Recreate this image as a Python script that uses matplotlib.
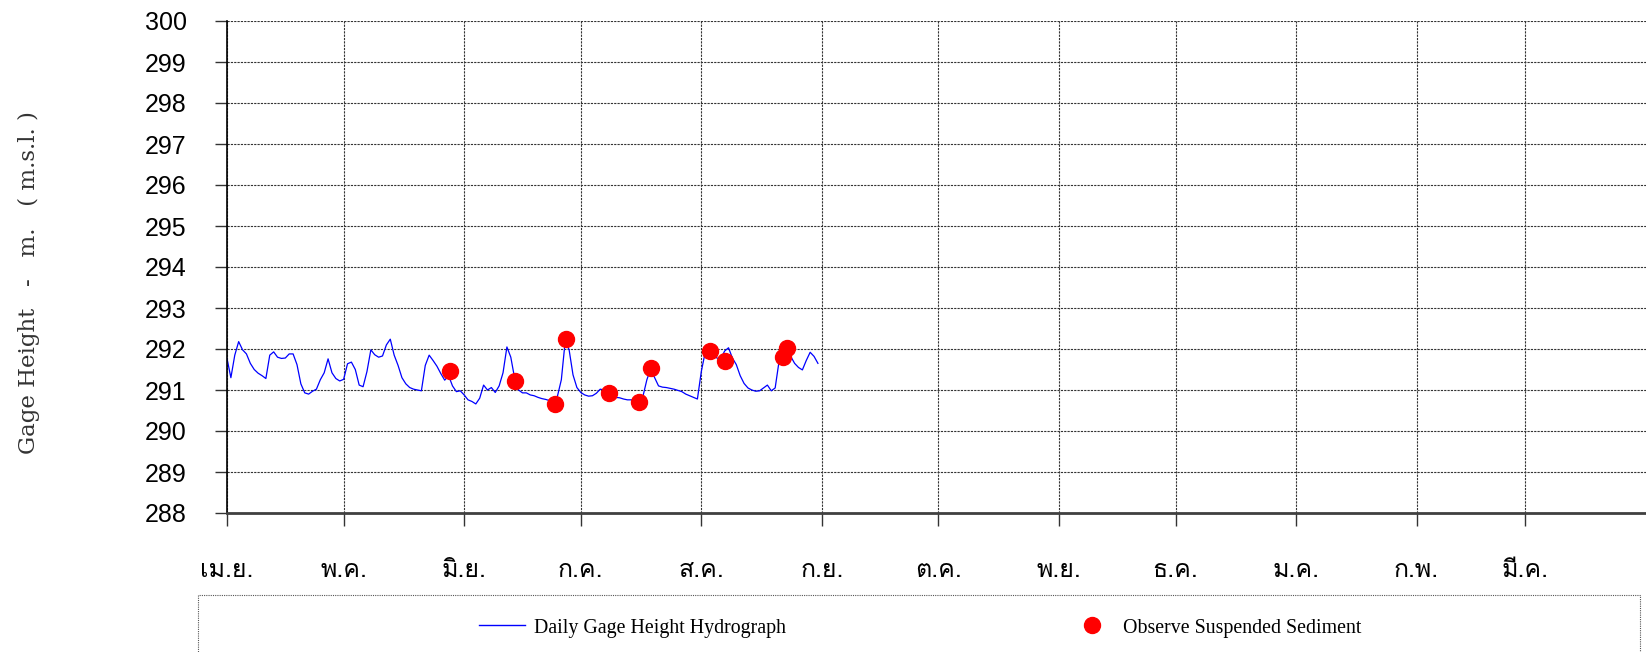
import matplotlib
matplotlib.use("Agg")
import matplotlib.pyplot as plt
from matplotlib import font_manager
from matplotlib.lines import Line2D
from matplotlib.patches import Rectangle
from fontTools.ttLib import TTFont

# daily gage height, 1 Apr .. 31 Aug (day 0 = 1 Apr)
gage = [291.77, 291.30, 291.85, 292.18, 291.98, 291.88, 291.65, 291.50, 291.41, 291.35,
        291.28, 291.85, 291.93, 291.80, 291.77, 291.78, 291.88, 291.88, 291.62, 291.15,
        290.93, 290.90, 290.97, 291.02, 291.25, 291.42, 291.76, 291.42, 291.28, 291.22,
        291.26, 291.64, 291.68, 291.50, 291.12, 291.08, 291.45, 291.98, 291.86, 291.80,
        291.83, 292.10, 292.24, 291.85, 291.60, 291.30, 291.15, 291.06, 291.02, 291.00,
        290.98, 291.60, 291.85, 291.72, 291.58, 291.40, 291.24, 291.35, 291.10, 290.96,
        290.98, 290.88, 290.76, 290.72, 290.66, 290.80, 291.12, 291.00, 291.06, 290.94,
        291.10, 291.42, 292.05, 291.80, 291.28, 291.00, 290.93, 290.93, 290.88, 290.86,
        290.82, 290.79, 290.77, 290.74, 290.68, 290.85, 291.25, 292.20, 291.98, 291.37,
        291.06, 290.94, 290.88, 290.85, 290.86, 290.92, 291.02, 291.00, 290.93, 290.86,
        290.82, 290.81, 290.78, 290.76, 290.76, 290.74, 290.72, 290.85, 291.25, 291.52,
        291.30, 291.10, 291.07, 291.06, 291.04, 291.02, 290.99, 290.96, 290.90, 290.86,
        290.82, 290.78, 291.45, 291.92, 291.92, 291.88, 291.78, 291.76, 291.95, 292.03,
        291.78, 291.62, 291.35, 291.16, 291.05, 291.00, 290.97, 290.98, 291.05, 291.12,
        290.98, 291.05, 291.70, 291.98, 291.95, 291.82, 291.65, 291.55, 291.49, 291.72,
        291.92, 291.82, 291.65]
days = list(range(len(gage)))

# suspended sediment sampling
sed_days = [57.4, 74.2, 84.3, 87.3, 98.2, 106.1, 109.1, 124.2, 128.1, 143.1, 144.1]
sed_gage = [291.46, 291.22, 290.67, 292.24, 290.92, 290.70, 291.53, 291.95, 291.71, 291.81, 292.02]

month_start = [0, 30, 61, 91, 122, 153, 183, 214, 244, 275, 306, 334]
month_names = ['เม.ย.', 'พ.ค.', 'มิ.ย.', 'ก.ค.', 'ส.ค.', 'ก.ย.', 'ต.ค.', 'พ.ย.', 'ธ.ค.', 'ม.ค.', 'ก.พ.', 'มี.ค.']
y_ticks = list(range(288, 301))

# look for a font that has thai glyphs
thai_font = 'DejaVu Sans'
for f in font_manager.fontManager.ttflist:
    try:
        cmap = TTFont(f.fname, fontNumber=0, lazy=True).getBestCmap()
    except Exception:
        continue
    if cmap and 0x0E21 in cmap:
        thai_font = f.name
        break

fig = plt.figure(figsize=(16.46, 6.52), dpi=100)
ax = fig.add_axes([227/1646, 1-513/652, 1-227/1646, (513-21)/652])

ax.plot(days, gage, color='#0000ff', lw=0.9)
ax.plot(sed_days, sed_gage, 'o', color='#ff0000', ms=11.5, mec='#ff0000')

ax.set_xlim(0, 365)
ax.set_ylim(288, 300)
ax.set_yticks(y_ticks)
ax.set_yticklabels([str(v) for v in y_ticks], fontsize=18, family='Liberation Sans')
ax.set_xticks(month_start)
ax.set_xticklabels(month_names, fontsize=18, family=[thai_font, 'DejaVu Sans'])
ax.tick_params(axis='y', length=9, width=1, pad=20, color='#333333')
ax.tick_params(axis='x', length=9, width=1, pad=24, color='#333333')
ax.grid(True, color='#333333', linestyle=(0, (2, 1)), lw=0.8)

for s in ['top', 'right']:
    ax.spines[s].set_visible(False)
ax.spines['left'].set_color('black')
ax.spines['left'].set_linewidth(1.2)
ax.spines['bottom'].set_color('#404040')
ax.spines['bottom'].set_linewidth(2)

fig.text(29/1646, 1-283/652, 'Gage Height   -   m.   ( m.s.l. )', rotation=90,
         ha='center', va='center', fontsize=16.5, family='DejaVu Serif', color='#333333')

# legend box
fig.patches.append(Rectangle((198/1646, -0.05), (1640-198)/1646, 0.05+1-595/652,
                             transform=fig.transFigure, fill=False, ec='#555555',
                             ls=(0, (1, 1)), lw=0.8))
fig.add_artist(Line2D([479/1646, 525/1646], [1-625/652, 1-625/652], color='#0000ff', lw=1.0,
                      transform=fig.transFigure))
fig.text(534/1646, 1-628/652, 'Daily Gage Height Hydrograph', ha='left', va='center',
         fontsize=14.3, family='Liberation Serif')
fig.add_artist(Line2D([1092/1646], [1-625/652], marker='o', color='#ff0000', ms=11.5,
                      transform=fig.transFigure))
fig.text(1123/1646, 1-628/652, 'Observe Suspended Sediment', ha='left', va='center',
         fontsize=14.3, family='Liberation Serif')

fig.savefig('out.png', dpi=100)
